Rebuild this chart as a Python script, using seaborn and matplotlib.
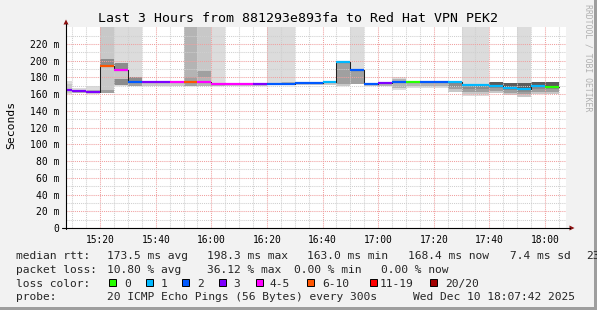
import numpy as np
import pandas as pd
import matplotlib
matplotlib.use("Agg")
import matplotlib.pyplot as plt
from matplotlib.lines import Line2D
from matplotlib.patches import Polygon, Rectangle
import seaborn as sns

n = np.nan

# ---------------- data ----------------
TITLE = "Last 3 Hours from 881293e893fa to Red Hat VPN PEK2"
BIN_TIMES = ["15:05", "15:10", "15:15", "15:20", "15:25", "15:30", "15:35", "15:40", "15:45",
             "15:50", "15:55", "16:00", "16:05", "16:10", "16:15", "16:20", "16:25", "16:30",
             "16:35", "16:40", "16:45", "16:50", "16:55", "17:00", "17:05", "17:10", "17:15",
             "17:20", "17:25", "17:30", "17:35", "17:40", "17:45", "17:50", "17:55", "18:00"]
DATA_END = "18:05"
VIEW_START = "15:07:42"
VIEW_END = "18:07:42"

MEDIAN = [165.5, 163.8, 163.0, 193.8, 189.5, 174.4, 174.0, 174.0, 174.0,
          174.0, 174.0, 172.5, 172.5, 172.5, 172.5, 172.5, 172.5, 173.5,
          173.5, 174.0, 198.3, 189.5, 172.0, 173.0, 174.2, 174.0, 174.0,
          174.0, 174.0, 171.5, 171.5, 169.8, 167.2, 165.7, 169.6, 168.4]
LOSS = ["3", "3", "3", "6-10", "4-5", "2", "3", "3", "4-5",
        "6-10", "4-5", "4-5", "4-5", "4-5", "3", "2", "2", "2",
        "2", "1", "1", "2", "2", "3", "2", "0", "2",
        "2", "1", "1", "1", "1", "1", "1", "1", "0"]

# smoke bands (ms), lightest to darkest
G1_LO = [160, 161, 160, n, 170, 170, 170, n, n, n, n, 170, n, n, n, 171, 171, n,
         n, n, n, 172, n, n, 165, 167, 168, 168, n, 158, 158, n, n, 157, n, n]
G1_HI = [176, 168, 170, n, 250, 250, 176, n, n, n, n, 250, n, n, n, 250, 250, n,
         n, n, n, 250, n, n, 181, 172, 172, 172, n, 250, 250, n, n, 250, n, n]
G2_LO = [161, n, n, 161, 178, n, 170, 170, 170, n, 170, n, 170, 170, 170, n, n, 171,
         171, 171, 170, n, 170, n, n, n, n, n, 163, 160, 160, 161, 159, 157, 160, 160]
G2_HI = [172, n, n, 250, 190, n, 174, 174, 174, n, 250, n, 173, 173, 173, n, n, 174,
         174, 174, 173, n, 172, n, n, n, n, n, 174, 171, 171, 170, 167, 166, 170, 169]
G3_LO = [n, 162, 161, n, n, n, n, n, n, 170, 170, 170, n, n, n, n, 172, n,
         n, n, n, n, n, 170, 168, 170, 170, 170, n, n, n, n, n, n, n, n]
G3_HI = [n, 165, 165, n, n, n, n, n, n, 250, 180, 173, n, n, n, n, 175, n,
         n, n, n, n, n, 173, 178, 174, 174, 174, n, n, n, n, n, n, n, n]
G4_LO = [n, n, n, 161, n, 170, n, n, n, 170, 180, n, n, n, n, n, n, n,
         n, n, 172, 172, n, n, n, n, n, n, 166, 163, 163, 164, 162, 160, 163, 163]
G4_HI = [n, n, n, 165, n, 174, n, n, n, 180, 188, n, n, n, n, n, n, n,
         n, n, 198.3, 189.5, n, n, n, n, n, n, 174, 171, 171, 170, 167, 166, 170, 169]
G5_LO = [n, n, n, 193.8, 189.5, 174.4, n, n, n, n, n, n, n, n, n, n, n, n,
         n, n, n, n, n, n, n, n, n, n, 169, 166, 166, 167, 164.5, 163, 166, 166]
G5_HI = [n, n, n, 202, 197, 180, n, n, n, n, n, n, n, n, n, n, n, n,
         n, n, n, n, n, n, n, n, n, n, 174, 171, 171, 170, 167, 166, 170, 169]
G5B_LO = [n, n, n, n, 171, n, n, n, n, n, n, n, n, n, n, n, n, n,
          n, n, n, n, n, n, n, n, n, n, n, n, n, n, n, n, n, n]
G5B_HI = [n, n, n, n, 178, n, n, n, n, n, n, n, n, n, n, n, n, n,
          n, n, n, n, n, n, n, n, n, n, n, n, n, n, n, n, n, n]
G6_LO = [n, n, n, n, n, n, n, n, n, n, n, n, n, n, n, n, n, n,
         n, n, n, n, n, n, n, n, n, n, n, n, n, 170, 167, 166, 170, 169]
G6_HI = [n, n, n, n, n, n, n, n, n, n, n, n, n, n, n, n, n, n,
         n, n, n, n, n, n, n, n, n, n, n, n, n, 174.5, 173, 173, 174, 174]

Y_TICKS = [0, 20, 40, 60, 80, 100, 120, 140, 160, 180, 200, 220]
Y_TICK_LABELS = ["0", "20 m", "40 m", "60 m", "80 m", "100 m", "120 m", "140 m",
                 "160 m", "180 m", "200 m", "220 m"]
X_TICK_LABELS = ["15:20", "15:40", "16:00", "16:20", "16:40", "17:00", "17:20", "17:40", "18:00"]

LOSS_LABELS = ["0", "1", "2", "3", "4-5", "6-10", "11-19", "20/20"]
LOSS_COLORS = ["#26ff00", "#00b8ff", "#0059ff", "#7e00ff", "#ff00ff", "#ff5500", "#ff0000", "#a10000"]

RTT_STATS = ["173.5 ms avg", "198.3 ms max", "163.0 ms min", "168.4 ms now", "7.4 ms sd", "23"]
LOSS_STATS = ["10.80 % avg", "36.12 % max", "0.00 % min", "0.00 % now"]
PROBE = "20 ICMP Echo Pings (56 Bytes) every 300s"
STAMP = "Wed Dec 10 18:07:42 2025"

# ---------------- style ----------------
W, H = 597, 310
BACK = "#f2f2f2"
MGRID = "#f0a0a0"
GRID = "#cfcfcf"
SMOKE = ["#dcdcdc", "#c8c8c8", "#b4b4b4", "#a0a0a0", "#8c8c8c", "#8c8c8c", "#5c5c5c"]

sns.set_theme(style="white")
plt.rcParams["font.family"] = ["DejaVu Sans Mono", "DejaVu Sans"]


def to_min(s):
    parts = [int(p) for p in s.split(":")]
    m = (parts[0] - 15) * 60 + parts[1]
    if len(parts) > 2:
        m += parts[2] / 60.0
    return m


t_start = np.array([to_min(s) for s in BIN_TIMES], dtype=float)
t_end = to_min(DATA_END)
width = t_start[1] - t_start[0]

fig = plt.figure(figsize=(W / 100, H / 100), dpi=100, facecolor=BACK)


def fx(x):
    return x / W


def fy(y):
    return 1 - y / H


X0, X1 = 66, 566.4
YB, YT = 228, 27.3
ax = fig.add_axes([fx(X0), fy(YB), (X1 - X0) / W, (YB - YT) / H])
ax.set_facecolor("white")
ax.set_xlim(to_min(VIEW_START), to_min(VIEW_END))
ax.set_ylim(0, 240)

# smoke
layers = [(G1_LO, G1_HI), (G2_LO, G2_HI), (G3_LO, G3_HI), (G4_LO, G4_HI),
          (G5_LO, G5_HI), (G5B_LO, G5B_HI), (G6_LO, G6_HI)]
for (lo, hi), col in zip(layers, SMOKE):
    lo = np.array(lo, dtype=float)
    hi = np.array(hi, dtype=float)
    m = ~np.isnan(lo)
    ax.bar(t_start[m], hi[m] - lo[m], bottom=lo[m], width=width, align="edge",
           color=col, linewidth=0, zorder=1)

# grid
maj_x = [to_min(s) for s in X_TICK_LABELS]
ax.set_xticks(maj_x)
ax.set_xticklabels(X_TICK_LABELS)
minor_x = [t for t in np.arange(10, 190, 5) if t not in maj_x]
ax.set_xticks(minor_x, minor=True)
ax.set_yticks(Y_TICKS)
ax.set_yticklabels(Y_TICK_LABELS)
ax.set_yticks([v + 10 for v in Y_TICKS], minor=True)
ax.set_axisbelow(False)
ax.grid(which="major", color=MGRID, linestyle=(0, (1, 1)), linewidth=0.75)
ax.grid(which="minor", color=GRID, linestyle=(0, (1, 1)), linewidth=0.75)
ax.tick_params(axis="both", which="major", length=1.6, width=0.7, color=MGRID,
               direction="out")
ax.tick_params(axis="both", which="minor", length=1.6, width=0.7, color=GRID,
               direction="out")
ax.tick_params(axis="x", labelsize=6.9, pad=3.5, labelcolor="black")
ax.tick_params(axis="y", labelsize=7.0, pad=3.0, labelcolor="black")
for s in ax.spines.values():
    s.set_visible(False)

# median: thin dark step line + loss-coloured segments
xs = list(t_start) + [t_end]
ys = list(MEDIAN) + [MEDIAN[-1]]
sns.lineplot(x=xs, y=ys, drawstyle="steps-post", color="#202020", linewidth=0.75,
             ax=ax, zorder=3)
seg_rows = []
for i, (t, v, l) in enumerate(zip(t_start, MEDIAN, LOSS)):
    seg_rows.append({"t": t, "v": v, "seg": i, "loss": l})
    seg_rows.append({"t": t + width, "v": v, "seg": i, "loss": l})
seg_df = pd.DataFrame(seg_rows)
sns.lineplot(data=seg_df, x="t", y="v", hue="loss", units="seg", estimator=None,
             palette=dict(zip(LOSS_LABELS, LOSS_COLORS)), linewidth=1.6, legend=False,
             sort=False, ax=ax, zorder=4, solid_capstyle="butt")
ax.set_xlabel("")
ax.set_ylabel("")

# axes lines + arrows
fig.add_artist(Line2D([fx(66), fx(66)], [fy(229), fy(24)], color="black", lw=0.8))
fig.add_artist(Line2D([fx(62), fx(570)], [fy(228), fy(228)], color="black", lw=0.8))
fig.add_artist(Polygon([[fx(63.5), fy(24.5)], [fx(68.5), fy(24.5)], [fx(66), fy(19.5)]],
                       closed=True, color="#8b1010", lw=0))
fig.add_artist(Polygon([[fx(569.5), fy(225.5)], [fx(569.5), fy(230.5)], [fx(574.5), fy(228)]],
                       closed=True, color="#8b1010", lw=0))

# texts
fig.text(fx(297.5), fy(19), TITLE, ha="center", va="center", fontsize=9.5, color="black")
fig.text(fx(11), fy(125), "Seconds", rotation=90, ha="center", va="center", fontsize=8.2,
         color="black")
fig.text(fx(588), fy(4), "RRDTOOL / TOBI OETIKER", rotation=270, ha="center", va="top",
         fontsize=5.9, color="#b0b0b0")

FS = 8.15
rows_y = [259.3, 272.9, 286.7, 300.3]
fig.text(fx(16), fy(rows_y[0]), "median rtt:", fontsize=FS, va="baseline")
for s, x in zip(RTT_STATS, [107.3, 207.3, 307.3, 407.7, 510, 586]):
    fig.text(fx(x), fy(rows_y[0]), s, fontsize=FS, va="baseline")
fig.text(fx(16), fy(rows_y[1]), "packet loss:", fontsize=FS, va="baseline")
for s, x in zip(LOSS_STATS, [107.3, 207.3, 294, 381]):
    fig.text(fx(x), fy(rows_y[1]), s, fontsize=FS, va="baseline")
fig.text(fx(16), fy(rows_y[2]), "loss color:", fontsize=FS, va="baseline")
box_x = [109, 145.7, 182.3, 219, 256, 307.3, 370, 430]
lab_x = [124, 160.7, 197.3, 233.3, 270, 322, 380, 445.3]
for bx, lx, lab, col in zip(box_x, lab_x, LOSS_LABELS, LOSS_COLORS):
    fig.add_artist(Rectangle((fx(bx), fy(286.3)), 7 / W, 7 / H, facecolor=col,
                             edgecolor="black", lw=0.7))
    fig.text(fx(lx), fy(rows_y[2]), lab, fontsize=FS, va="baseline")
fig.text(fx(16), fy(rows_y[3]), "probe:", fontsize=FS, va="baseline")
fig.text(fx(107.3), fy(rows_y[3]), PROBE, fontsize=FS, va="baseline")
fig.text(fx(413.3), fy(rows_y[3]), STAMP, fontsize=FS, va="baseline")

# frame shading
fig.add_artist(Rectangle((fx(594), 0), 3 / W, 1, facecolor="#9e9e9e", lw=0))
fig.add_artist(Rectangle((0, 0), 1, 3 / H, facecolor="#9e9e9e", lw=0))

fig.savefig("out.png", dpi=100, facecolor=BACK)
